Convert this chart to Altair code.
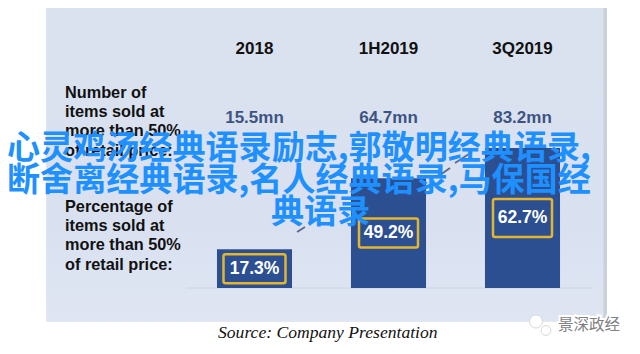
import altair as alt
import pandas as pd

categories = ["2018", "1H2019", "3Q2019"]
items_sold = ["15.5mn", "64.7mn", "83.2mn"]
percent = [17.3, 49.2, 62.7]
percent_labels = ["17.3%", "49.2%", "62.7%"]
number_lines = ["Number of", "items sold at", "more than 50%", "of retail price:"]
percentage_lines = ["Percentage of", "items sold at", "more than 50%", "of retail price:"]
overlay_lines = ["心灵鸡汤经典语录励志,郭敬明经典语录,", "断舍离经典语录,名人经典语录,马保国经", "典语录"]
source_text = "Source: Company Presentation"
watermark = "景深政经"

df = pd.DataFrame({"cat": categories, "items": items_sold, "pct": percent, "label": percent_labels})
base = alt.Chart(df)

X = alt.X("cat:N", sort=categories, axis=None,
          scale=alt.Scale(range=[179.5, 581.5], paddingInner=0.44, paddingOuter=0.22))
Y = alt.Y("pct:Q", axis=None, scale=alt.Scale(domain=[0, 100], range=[280, 56.7]))
YM = alt.Y("mid:Q", axis=None, scale=alt.Scale(domain=[0, 100], range=[280, 56.7]))

one = alt.Chart(pd.DataFrame({"a": [0]}))


def block(x, y, x2, y2, color):
    return one.mark_rect(color=color).encode(
        x=alt.value(x), y=alt.value(y), x2=alt.value(x2), y2=alt.value(y2))


shadow = block(38.5, 0, 599, 313.5, "#c9d0dc")
panel = one.mark_rect(
    color=alt.Gradient(gradient="linear", x1=0, y1=0, x2=0, y2=1,
                       stops=[alt.GradientStop(color="#dae2ef", offset=0),
                              alt.GradientStop(color="#d9e1f1", offset=0.7),
                              alt.GradientStop(color="#dfe5f2", offset=1)])
).encode(x=alt.value(38.5), y=alt.value(0), x2=alt.value(595.5), y2=alt.value(313))
baseline = one.mark_rule(color="#ccd4e2", strokeWidth=1).encode(
    x=alt.value(178), x2=alt.value(584), y=alt.value(280))

bars = base.mark_bar(color="#2c4f91").encode(x=X, y=Y, y2=alt.datum(0))

headers = base.mark_text(font="Liberation Sans", fontWeight="bold", fontSize=17, color="#111").encode(
    x=X, y=alt.value(41), text="cat:N")
items = base.mark_text(font="Liberation Sans", fontWeight="bold", fontSize=17, color="#3d5482").encode(
    x=X, y=alt.value(110), text="items:N")

mid = base.transform_calculate(mid="datum.pct/2")


def box(cat, w, h):
    return mid.transform_filter(alt.datum.cat == cat).mark_rect(
        width=w, height=h, color="#2c4f91", stroke="#e4b62f", strokeWidth=2.5, cornerRadius=2
    ).encode(x=X, y=YM)


boxes = [box(categories[0], 62, 29), box(categories[1], 59, 29), box(categories[2], 59, 38)]
labels = mid.mark_text(font="Liberation Sans", fontWeight="bold", fontSize=17.5, color="white").encode(
    x=X, y=YM, text="label:N")


def left_block(lines, y0):
    d = pd.DataFrame({"t": lines, "i": range(len(lines))})
    return alt.Chart(d).mark_text(font="Liberation Sans", fontWeight="bold", fontSize=16.3, color="#111",
                                  align="left").encode(
        x=alt.value(57),
        y=alt.Y("i:Q", axis=None, scale=alt.Scale(domain=[0, 3], range=[y0, y0 + 57.5])),
        text="t:N")


source = one.mark_text(font="Liberation Serif", fontStyle="italic", fontSize=17.6, color="#111",
                       align="left").encode(
    x=alt.value(210), y=alt.value(325), text=alt.value(source_text))

icon = [
    one.mark_point(shape="circle", size=s, filled=True, color="white", stroke="#d8d8d8",
                   strokeWidth=1, opacity=1).encode(x=alt.value(x), y=alt.value(y))
    for x, y, s in [(528, 313.5, 170), (538, 322.5, 95)]
]
wm_halo = one.mark_text(font="Noto Sans CJK SC", fontSize=15.5, color="white", stroke="white", strokeWidth=4,
                        align="left").encode(x=alt.value(550), y=alt.value(317), text=alt.value(watermark))
wm = one.mark_text(font="Noto Sans CJK SC", fontSize=15.5, color="#808080", align="left").encode(
    x=alt.value(550), y=alt.value(317), text=alt.value(watermark))


def slash(x, y, x2, y2):
    return one.mark_rule(color="#5f6b8c", strokeWidth=2).encode(
        x=alt.value(x), y=alt.value(y), x2=alt.value(x2), y2=alt.value(y2))


slashes = [slash(289, 224, 297, 219), slash(432, 167, 442, 160), slash(447, 155, 464, 144)]


def over(line, x, y):
    return one.mark_text(font="Noto Sans CJK SC", fontWeight="bold", fontSize=33.1, color="#1e90ff",
                         align="left").encode(x=alt.value(x), y=alt.value(y), text=alt.value(line))


overlay = [over(overlay_lines[0], -1, 141), over(overlay_lines[1], -1, 173), over(overlay_lines[2], 263, 205)]

chart = alt.layer(
    shadow, panel, baseline, bars, headers, items, *boxes, labels,
    left_block(number_lines, 85), left_block(percentage_lines, 199),
    source, *icon, wm_halo, wm, *slashes, *overlay
).resolve_scale(y="independent").properties(
    width=624, height=338, padding=0, autosize=alt.AutoSizeParams(type="none")
).configure_view(stroke=None)

chart.save("out.html", embed_options={"renderer": "svg", "actions": False})
